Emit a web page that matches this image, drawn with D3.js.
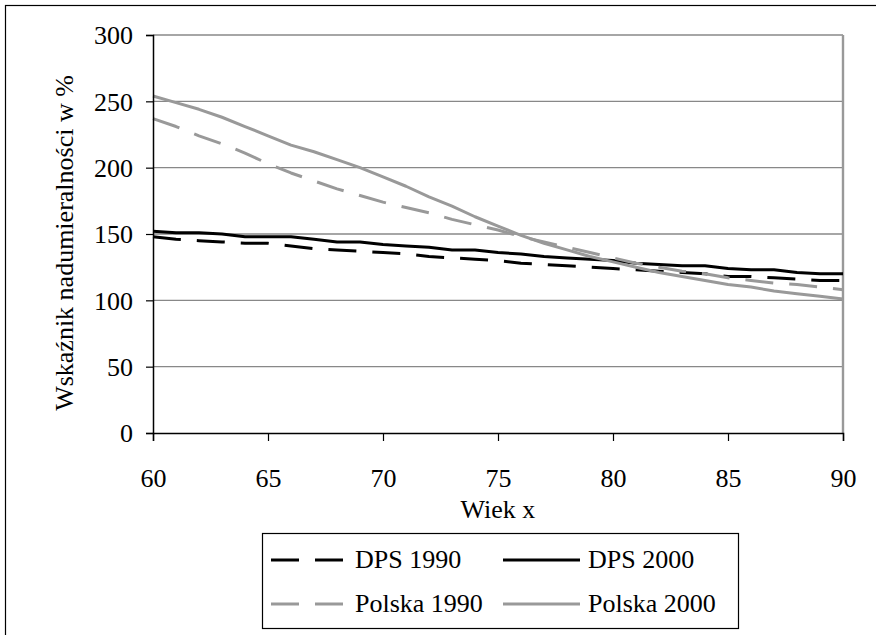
<!DOCTYPE html>
<html>
<head>
<meta charset="utf-8">
<script src="https://cdn.jsdelivr.net/npm/d3@7/dist/d3.min.js"></script>
<style>
  html, body { margin: 0; padding: 0; background: #fff; }
</style>
</head>
<body>
<svg id="chart" width="876" height="635"></svg>
<script>
// Age (years) on the x axis
const ages = d3.range(60, 91);

// Excess mortality ratio in %, one value per age 60..90
const dps1990 = [148, 146, 145, 144, 143, 143, 141, 139, 138, 137, 136, 135, 133, 132, 131, 130,
                 128, 127, 126, 125, 124, 123, 122, 121, 120, 118, 118, 117, 116, 115, 115];
const dps2000 = [152, 151, 151, 150, 148, 148, 148, 146, 144, 144, 142, 141, 140, 138, 138, 136,
                 135, 133, 132, 131, 130, 128, 127, 126, 126, 124, 123, 123, 121, 120, 120];
const polska1990 = [237, 231, 224, 218, 211, 203, 196, 190, 184, 179, 174, 170, 166, 161, 157, 153,
                    148, 144, 140, 136, 132, 128, 125, 122, 120, 117, 115, 113, 112, 110, 108];
const polska2000 = [254, 249, 244, 238, 231, 224, 217, 212, 206, 200, 193, 186, 178, 171, 163, 156,
                    149, 143, 138, 133, 129, 125, 121, 118, 115, 112, 110, 107, 105, 103, 101];

const xTicks = [60, 65, 70, 75, 80, 85, 90];
const yTicks = [0, 50, 100, 150, 200, 250, 300];

const seriesNames = ["DPS 1990", "DPS 2000", "Polska 1990", "Polska 2000"];
const seriesValues = [dps1990, dps2000, polska1990, polska2000];

const GRAY = "#999999";
const styles = [
  { color: "#000", dash: "28,16" },
  { color: "#000", dash: null },
  { color: GRAY, dash: "28,16" },
  { color: GRAY, dash: null }
];

const svg = d3.select("#chart");
const FONT = 26;
const FAMILY = "Liberation Serif";

// Outer frame
svg.append("rect")
  .attr("x", 5.5).attr("y", 5.5)
  .attr("width", 900).attr("height", 700)
  .attr("fill", "none").attr("stroke", "#000").attr("stroke-width", 1.2);

const plot = { left: 153, right: 843, top: 35, bottom: 433 };

const x = d3.scaleLinear().domain([60, 90]).range([plot.left, plot.right]);
const y = d3.scaleLinear().domain([0, 300]).range([plot.bottom, plot.top]);

// Horizontal gridlines
svg.append("g")
  .selectAll("line")
  .data(yTicks.filter(d => d > 0))
  .join("line")
  .attr("x1", plot.left).attr("x2", plot.right)
  .attr("y1", d => y(d)).attr("y2", d => y(d))
  .attr("stroke", "#888").attr("stroke-width", 1.4);

// Right border of the plot area
svg.append("line")
  .attr("x1", plot.right).attr("x2", plot.right)
  .attr("y1", plot.top).attr("y2", plot.bottom)
  .attr("stroke", "#999").attr("stroke-width", 2.4);

// Series lines
const line = d3.line()
  .x((d, i) => x(ages[i]))
  .y(d => y(d));

svg.append("g")
  .selectAll("path")
  .data(seriesValues)
  .join("path")
  .attr("d", d => line(d))
  .attr("fill", "none")
  .attr("stroke", (d, i) => styles[i].color)
  .attr("stroke-width", 3)
  .attr("stroke-linejoin", "round")
  .attr("stroke-dasharray", (d, i) => styles[i].dash);

// Axes
const yAxis = d3.axisLeft(y).tickValues(yTicks).tickSize(7).tickPadding(13);
const xAxis = d3.axisBottom(x).tickValues(xTicks).tickSize(8).tickPadding(27);

const gy = svg.append("g").attr("transform", `translate(${plot.left},0)`).call(yAxis);
const gx = svg.append("g").attr("transform", `translate(0,${plot.bottom})`).call(xAxis);

[gx, gy].forEach(g => {
  g.attr("font-family", FAMILY).attr("font-size", FONT);
  g.select(".domain").attr("stroke", "#000").attr("stroke-width", 1.5);
  g.selectAll(".tick line").attr("stroke", "#000").attr("stroke-width", 1.2);
  g.selectAll(".tick text")
    .attr("fill", "#000")
    .attr("font-family", FAMILY)
    .attr("font-size", FONT);
});
gy.selectAll(".tick text").attr("dy", "0.34em");
gx.selectAll(".tick text").attr("dy", "0.72em");

// Axis titles
svg.append("text")
  .attr("x", (plot.left + plot.right) / 2)
  .attr("y", 518)
  .attr("text-anchor", "middle")
  .attr("font-family", FAMILY)
  .attr("font-size", FONT)
  .text("Wiek x");

svg.append("text")
  .attr("transform", "translate(73,243) rotate(-90)")
  .attr("text-anchor", "middle")
  .attr("font-family", FAMILY)
  .attr("font-size", FONT)
  .text("Wskaźnik nadumieralności w %");

// Legend
const legend = svg.append("g");
legend.append("rect")
  .attr("x", 262.5).attr("y", 533.5)
  .attr("width", 476).attr("height", 95)
  .attr("fill", "#fff").attr("stroke", "#000").attr("stroke-width", 1.2);

const cols = [{ lx1: 271, lx2: 343, tx: 355 }, { lx1: 503, lx2: 580, tx: 588 }];
const rows = [560, 604];

seriesNames.forEach((name, i) => {
  const c = cols[i % 2];
  const r = rows[Math.floor(i / 2)];
  legend.append("line")
    .attr("x1", c.lx1).attr("x2", c.lx2)
    .attr("y1", r).attr("y2", r)
    .attr("stroke", styles[i].color)
    .attr("stroke-width", 3)
    .attr("stroke-dasharray", styles[i].dash);
  legend.append("text")
    .attr("x", c.tx).attr("y", r + 8)
    .attr("font-family", FAMILY)
    .attr("font-size", FONT)
    .text(name);
});
</script>
</body>
</html>
